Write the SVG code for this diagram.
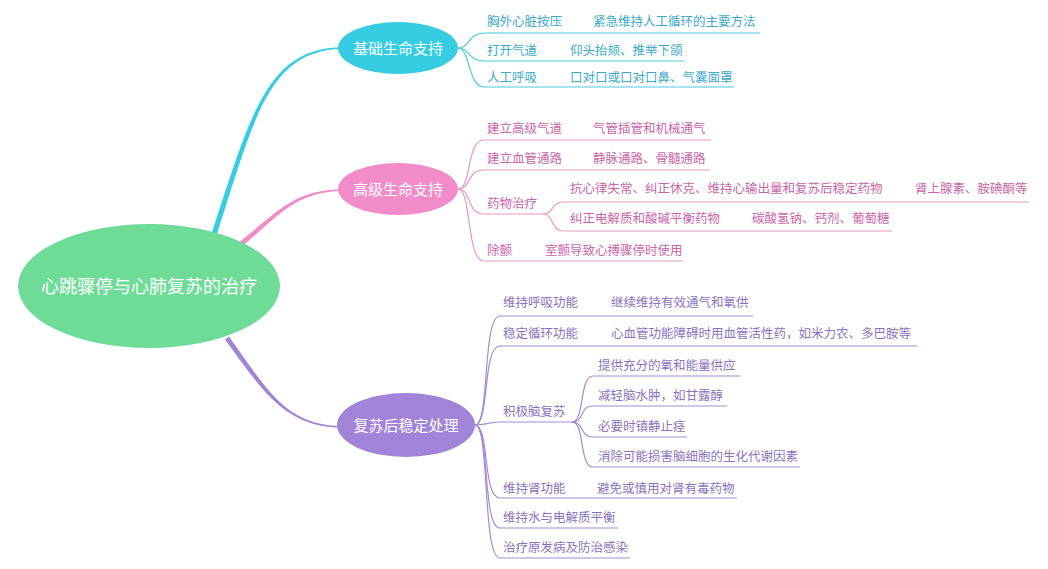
<svg xmlns="http://www.w3.org/2000/svg" width="1048" height="569" viewBox="0 0 1048 569">
<style>
text{font-family:"Noto Sans CJK SC","Noto Sans",sans-serif;}
.node{font-size:15px;fill:#ffffff;text-anchor:middle;}
.root{font-size:18px;fill:#ffffff;text-anchor:middle;}
.leaf{font-size:12.5px;}
.c1{stroke:#4cc9df;}
.c2{stroke:#e797c9;}
.c3{stroke:#a48bd2;}
.t1{fill:#3aa9c9;}
.t2{fill:#c965a8;}
.t3{fill:#8a72be;}
.conn path{fill:none;stroke-width:1.2;}
</style>
<rect width="1048" height="569" fill="#ffffff"/>
<g id="connectors">
  <g id="main-branches">
    <path d="M211.5,234 C252,110 268,46.6 345,47.2 L345,48.8 C270,49.4 256,111.5 216.5,235.5 Z" fill="#36cde3"/>
    <path d="M239.5,242 C279,210.5 295,189 345,189.3 L345,190.7 C296,191.5 281,213.5 242.5,246 Z" fill="#f28cc8"/>
    <path d="M229,336.5 C267,389 285,426 345,426.3 L345,427.7 C285,428.5 263,391 225,339.5 Z" fill="#a183d8"/>
  </g>
  <g class="conn">
    <path class="c1" d="M458,48 C470,48 468,33 484,33 L760,33"/>
    <path class="c1" d="M458,48 C470,48 468,61 484,61 L684,61"/>
    <path class="c1" d="M458,48 C470,48 468,87 484,87 L734,87"/>

    <path class="c2" d="M458,189 C472,189 466,140 484,140 L711,140"/>
    <path class="c2" d="M458,189 C472,189 466,170 484,170 L710,170"/>
    <path class="c2" d="M458,189 C472,189 466,214 484,214 L543,214"/>
    <path class="c2" d="M458,189 C472,189 466,261 484,261 L683,261"/>
    <path class="c2" d="M543,214 C554,214 551,202 563,202 L1029,202"/>
    <path class="c2" d="M543,214 C554,214 551,231 563,231 L892,231"/>

    <path class="c3" d="M475,425 C490,425 482,316 500,316 L753,316"/>
    <path class="c3" d="M475,425 C490,425 482,346 500,346 L917,346"/>
    <path class="c3" d="M475,425 C486,425 488,422 500,422 L572,422"/>
    <path class="c3" d="M475,425 C490,425 482,498 500,498 L737,498"/>
    <path class="c3" d="M475,425 C490,425 482,528 500,528 L618,528"/>
    <path class="c3" d="M475,425 C490,425 482,558 500,558 L630,558"/>
    <path class="c3" d="M572,422 C585,422 579,376 593,376 L740,376"/>
    <path class="c3" d="M572,422 C585,422 579,406 593,406 L727,406"/>
    <path class="c3" d="M572,422 C585,422 579,437 593,437 L687,437"/>
    <path class="c3" d="M572,422 C585,422 579,467 593,467 L800,467"/>
  </g>
</g>

<g id="root">
  <ellipse cx="149" cy="286" rx="131" ry="62" fill="#6edc97"/>
  <text class="root" x="149" y="293">心跳骤停与心肺复苏的治疗</text>
</g>

<g id="n1">
  <ellipse cx="398" cy="48" rx="60" ry="26" fill="#36cde3"/>
  <text class="node" x="398" y="54">基础生命支持</text>
</g>
<g id="n2">
  <ellipse cx="398" cy="189" rx="60" ry="26" fill="#f28cc8"/>
  <text class="node" x="398" y="195">高级生命支持</text>
</g>
<g id="n3">
  <ellipse cx="406" cy="425" rx="69" ry="32" fill="#a183d8"/>
  <text class="node" x="406" y="431">复苏后稳定处理</text>
</g>

<g id="n1-leaves" class="leaf">
  <g id="n1a"><text class="t1" x="487" y="26">胸外心脏按压</text><text class="t1" x="593" y="26">紧急维持人工循环的主要方法</text></g>
  <g id="n1b"><text class="t1" x="487" y="55">打开气道</text><text class="t1" x="570" y="55">仰头抬颏、推举下颌</text></g>
  <g id="n1c"><text class="t1" x="487" y="82">人工呼吸</text><text class="t1" x="570" y="82">口对口或口对口鼻、气囊面罩</text></g>
</g>

<g id="n2-leaves" class="leaf">
  <g id="n2a"><text class="t2" x="487" y="133">建立高级气道</text><text class="t2" x="593" y="133">气管插管和机械通气</text></g>
  <g id="n2b"><text class="t2" x="487" y="163">建立血管通路</text><text class="t2" x="593" y="163">静脉通路、骨髓通路</text></g>
  <g id="n2c"><text class="t2" x="487" y="208">药物治疗</text></g>
  <g id="n2c1"><text class="t2" x="570" y="193">抗心律失常、纠正休克、维持心输出量和复苏后稳定药物</text><text class="t2" x="915" y="193">肾上腺素、胺碘酮等</text></g>
  <g id="n2c2"><text class="t2" x="570" y="223">纠正电解质和酸碱平衡药物</text><text class="t2" x="752" y="223">碳酸氢钠、钙剂、葡萄糖</text></g>
  <g id="n2d"><text class="t2" x="487" y="255">除颤</text><text class="t2" x="545" y="255">室颤导致心搏骤停时使用</text></g>
</g>

<g id="n3-leaves" class="leaf">
  <g id="n3a"><text class="t3" x="503" y="307">维持呼吸功能</text><text class="t3" x="611" y="307">继续维持有效通气和氧供</text></g>
  <g id="n3b"><text class="t3" x="503" y="338">稳定循环功能</text><text class="t3" x="611" y="338">心血管功能障碍时用血管活性药，如米力农、多巴胺等</text></g>
  <g id="n3c"><text class="t3" x="503" y="416">积极脑复苏</text></g>
  <g id="n3c1"><text class="t3" x="598" y="370">提供充分的氧和能量供应</text></g>
  <g id="n3c2"><text class="t3" x="598" y="400">减轻脑水肿，如甘露醇</text></g>
  <g id="n3c3"><text class="t3" x="598" y="431">必要时镇静止痉</text></g>
  <g id="n3c4"><text class="t3" x="598" y="461">消除可能损害脑细胞的生化代谢因素</text></g>
  <g id="n3d"><text class="t3" x="503" y="493">维持肾功能</text><text class="t3" x="597" y="493">避免或慎用对肾有毒药物</text></g>
  <g id="n3e"><text class="t3" x="503" y="522">维持水与电解质平衡</text></g>
  <g id="n3f"><text class="t3" x="503" y="552">治疗原发病及防治感染</text></g>
</g>
</svg>
